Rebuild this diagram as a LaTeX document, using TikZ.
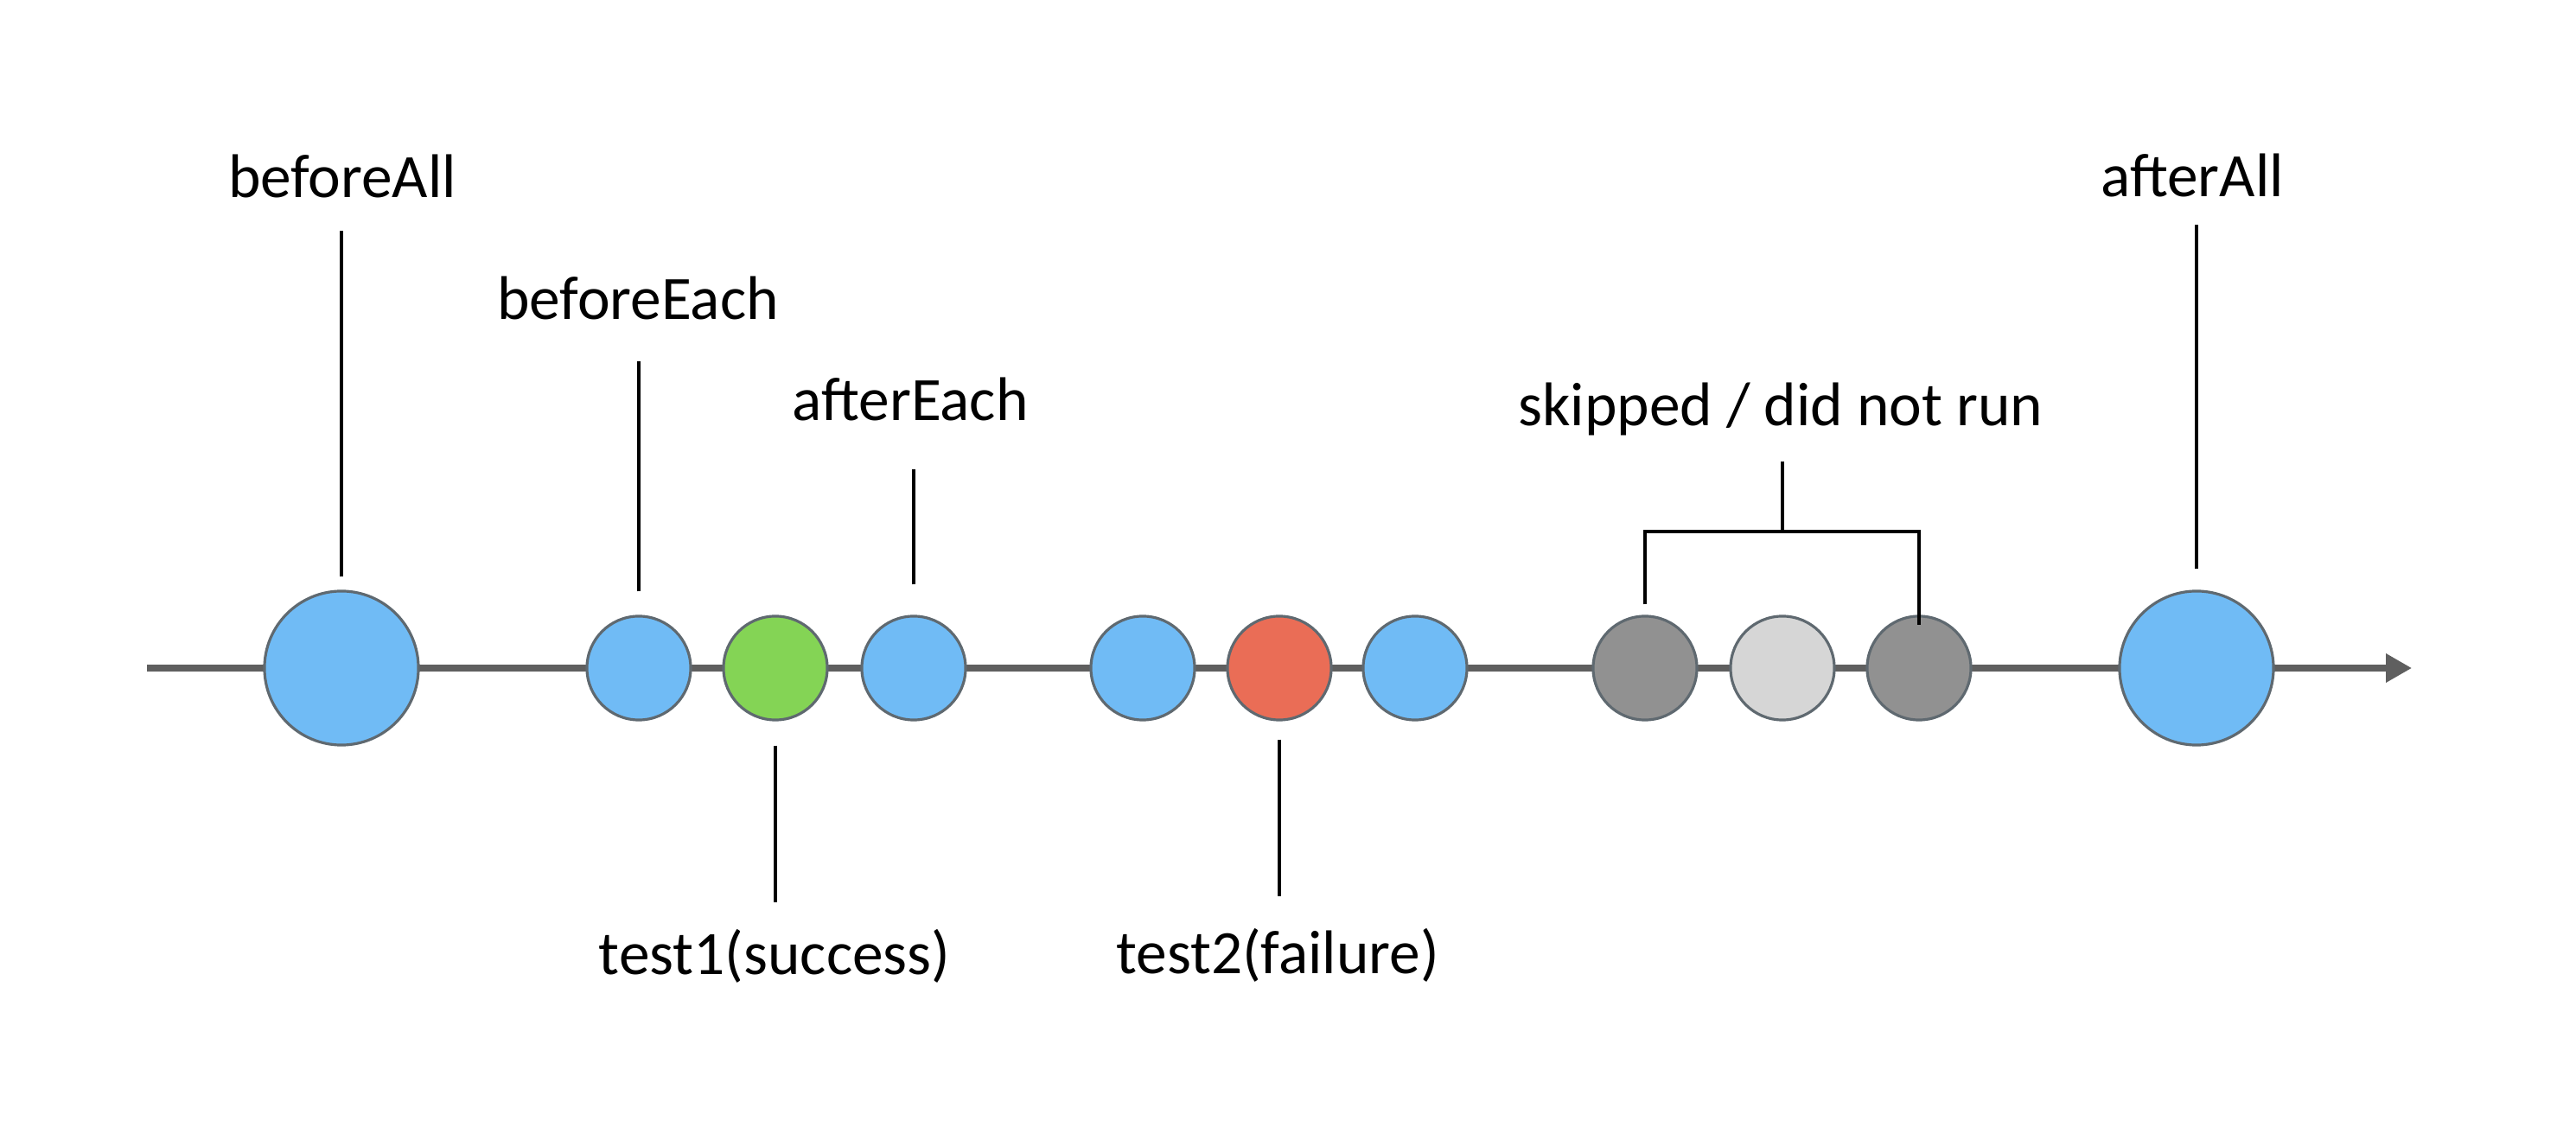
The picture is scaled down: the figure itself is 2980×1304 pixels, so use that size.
\documentclass[tikz,border=0pt]{standalone}
\usepackage{fontspec}
\setmainfont{Carlito}
\usetikzlibrary{arrows.meta}
\definecolor{hookblue}{RGB}{112,187,245}
\definecolor{okgreen}{RGB}{132,212,85}
\definecolor{failred}{RGB}{234,109,86}
\definecolor{skipdark}{RGB}{145,145,145}
\definecolor{skiplight}{RGB}{214,214,214}
\definecolor{rim}{RGB}{95,105,112}
\definecolor{axisgrey}{RGB}{95,95,95}
\tikzset{
  dot/.style={circle, draw=rim, line width=0.9pt, inner sep=0pt, minimum size=1.2cm},
  bigdot/.style={dot, minimum size=1.78cm},
  lbl/.style={inner sep=0pt, anchor=base, font=\fontsize{20.3pt}{24pt}\selectfont},
  lead/.style={black, line width=1.05pt},
  timeline/.style={axisgrey, line width=2pt, -{Triangle[length=0.3cm, width=0.32cm]}}
}
\begin{document}
\begin{tikzpicture}[x=0.01cm, y=-0.01cm]
\useasboundingbox (0,0) rectangle (2980,1304);
% timeline
\coordinate (start) at (170,773);
\coordinate (end) at (2790,773);
\draw[timeline] (start) -- (end);
% circles
\node[bigdot, fill=hookblue] (c1) at (395,773) {};
\node[dot, fill=hookblue] (c2) at (739,773) {};
\node[dot, fill=okgreen] (c3) at (897,773) {};
\node[dot, fill=hookblue] (c4) at (1057,773) {};
\node[dot, fill=hookblue] (c5) at (1322,773) {};
\node[dot, fill=failred] (c6) at (1480,773) {};
\node[dot, fill=hookblue] (c7) at (1637,773) {};
\node[dot, fill=skipdark] (c8) at (1903,773) {};
\node[dot, fill=skiplight] (c9) at (2062,773) {};
\node[dot, fill=skipdark] (c10) at (2220,773) {};
\node[bigdot, fill=hookblue] (c11) at (2541,773) {};
% labels
\node[lbl] (tBA) at (396,229) {beforeAll};
\node[lbl] (tBE) at (738,370) {beforeEach};
\node[lbl] (tAE) at (1053,487) {afterEach};
\node[lbl] (tT1) at (896,1128) {test1(success)};
\node[lbl] (tT2) at (1478,1127) {test2(failure)};
\node[lbl] (tSK) at (2060,493) {skipped / did not run};
\node[lbl] (tAA) at (2536,228) {afterAll};
% leaders
\draw[lead] (c1.north) ++(0,-15) -- ++(0,-400);
\draw[lead] (c2.north) ++(0,-27) -- ++(0,-266);
\draw[lead] (c4.north) ++(0,-35) -- ++(0,-133);
\draw[lead] (c3.south) ++(0,28) -- ++(0,181);
\draw[lead] (c6.south) ++(0,21) -- ++(0,181);
\draw[lead] (c11.north) ++(0,-24) -- ++(0,-398);
% bracket for skipped
\coordinate (bl) at (1903,615);
\coordinate (br) at (2220,615);
\coordinate (bm) at (2062,615);
\coordinate (bt) at (2062,534);
\draw[lead] (c8.north) ++(0,-12) -- (bl) -- (br) -- ([yshift=-0.12cm]c10.north);
\draw[lead] (bm) -- (bt);
\end{tikzpicture}
\end{document}
